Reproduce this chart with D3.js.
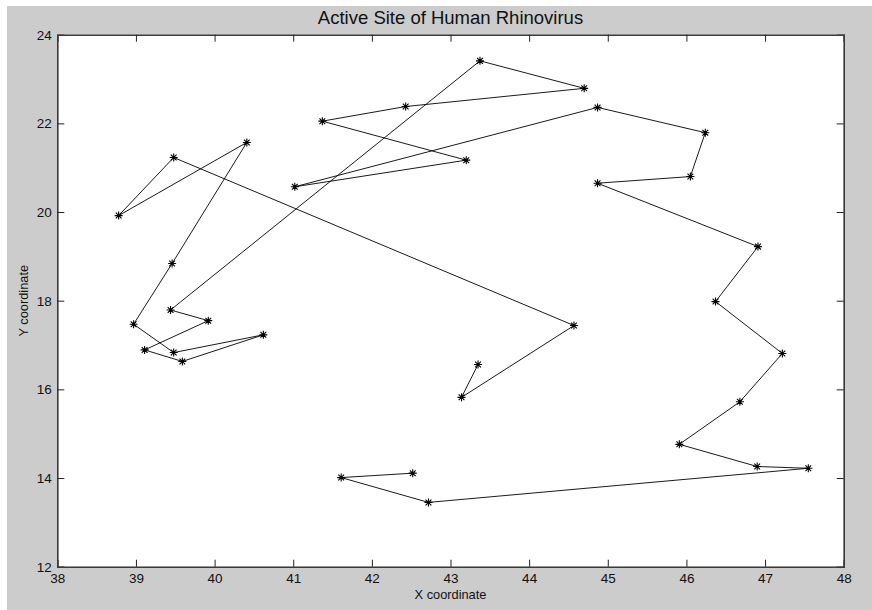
<!DOCTYPE html>
<html>
<head>
<meta charset="utf-8">
<script src="https://cdn.jsdelivr.net/npm/d3@7"></script>
<style>
  html, body { margin: 0; padding: 0; background: #ffffff; }
  svg { display: block; }
  text { font-family: "Liberation Sans", Arial, Helvetica, sans-serif; fill: #111; }
</style>
</head>
<body>
<svg id="chart" width="872" height="610"></svg>
<script>
// Path of active-site atoms (in drawing order)
const xCoords = [43.35, 43.14, 44.57, 39.48, 38.78, 40.41, 39.46, 38.97, 39.48, 40.62,
                 39.59, 39.11, 39.92, 39.44, 43.375, 44.70, 42.43, 41.37, 43.20, 41.02,
                 44.87, 46.24, 46.05, 44.87, 46.91, 46.37, 47.22, 46.68, 45.91, 46.90,
                 47.55, 42.72, 41.61, 42.52];
const yCoords = [16.56, 15.82, 17.44, 21.23, 19.92, 21.57, 18.84, 17.47, 16.83, 17.23,
                 16.63, 16.89, 17.55, 17.79, 23.41, 22.79, 22.38, 22.05, 21.17, 20.57,
                 22.36, 21.79, 20.80, 20.65, 19.22, 17.98, 16.81, 15.72, 14.76, 14.26,
                 14.22, 13.45, 14.01, 14.11];
const xTicks = [38, 39, 40, 41, 42, 43, 44, 45, 46, 47, 48];
const yTicks = [12, 14, 16, 18, 20, 22, 24];
const titleText = "Active Site of Human Rhinovirus";
const xLabel = "X coordinate";
const yLabel = "Y coordinate";

const svg = d3.select("#chart");
const W = 872, H = 610;
const m = { left: 57.3, top: 34.7, right: 843.7, bottom: 566.7 };

// figure background
svg.append("rect").attr("x", 7).attr("y", 6).attr("width", W - 7).attr("height", H - 6).attr("fill", "#cccccc");

const x = d3.scaleLinear().domain([38, 48]).range([m.left, m.right]);
const y = d3.scaleLinear().domain([12, 24]).range([m.bottom, m.top]);

// axes area
svg.append("rect").attr("x", m.left).attr("y", m.top)
  .attr("width", m.right - m.left).attr("height", m.bottom - m.top)
  .attr("fill", "#ffffff");

const tickLen = 7;
const g = svg.append("g");

// bottom axis
const xAxisB = d3.axisBottom(x).tickValues(xTicks).tickSize(-tickLen).tickPadding(7).tickFormat(d3.format("d"));
const gxb = g.append("g").attr("transform", `translate(0,${m.bottom})`).call(xAxisB);
// top axis (ticks only)
const gxt = g.append("g").attr("transform", `translate(0,${m.top})`)
  .call(d3.axisTop(x).tickValues(xTicks).tickSize(-tickLen).tickFormat(""));
// left axis
const yAxisL = d3.axisLeft(y).tickValues(yTicks).tickSize(-tickLen).tickPadding(5.5).tickFormat(d3.format("d"));
const gyl = g.append("g").attr("transform", `translate(${m.left},0)`).call(yAxisL);
// right axis (ticks only)
const gyr = g.append("g").attr("transform", `translate(${m.right},0)`)
  .call(d3.axisRight(y).tickValues(yTicks).tickSize(-tickLen).tickFormat(""));

[gxb, gxt, gyl, gyr].forEach(a => {
  a.select(".domain").attr("stroke", "#3a3a3a").attr("stroke-width", 1.6);
  a.selectAll(".tick line").attr("stroke", "#222").attr("stroke-width", 1);
  a.selectAll(".tick text").attr("font-size", 13.5).attr("fill", "#111")
    .attr("font-family", "'Liberation Sans', Arial, sans-serif");
});
// hide end ticks that coincide with the box edges
[gxb, gxt].forEach(a => a.selectAll(".tick line").filter(d => d === 38 || d === 48).remove());
[gyl, gyr].forEach(a => a.selectAll(".tick line").filter(d => d === 12 || d === 24).remove());

// data line
const line = d3.line().x((d, i) => x(xCoords[i])).y((d, i) => y(yCoords[i]));
svg.append("path").datum(xCoords).attr("d", line)
  .attr("fill", "none").attr("stroke", "#000").attr("stroke-width", 0.9);

// asterisk markers
const r = 4;
const starPath = `M${-r},0L${r},0M0,${-r}L0,${r}M${-r*0.72},${-r*0.72}L${r*0.72},${r*0.72}M${-r*0.72},${r*0.72}L${r*0.72},${-r*0.72}`;
svg.append("g").selectAll("path").data(xCoords).join("path")
  .attr("transform", (d, i) => `translate(${x(xCoords[i])},${y(yCoords[i])})`)
  .attr("d", starPath).attr("fill", "none").attr("stroke", "#000").attr("stroke-width", 1.1);

// title and labels
svg.append("text").attr("x", (m.left + m.right) / 2).attr("y", 24)
  .attr("text-anchor", "middle").attr("font-size", 18.5).text(titleText);
svg.append("text").attr("x", (m.left + m.right) / 2).attr("y", 599)
  .attr("text-anchor", "middle").attr("font-size", 12.8).text(xLabel);
svg.append("text").attr("transform", `translate(28,${(m.top + m.bottom) / 2}) rotate(-90)`)
  .attr("text-anchor", "middle").attr("font-size", 12.8).text(yLabel);
</script>
</body>
</html>
